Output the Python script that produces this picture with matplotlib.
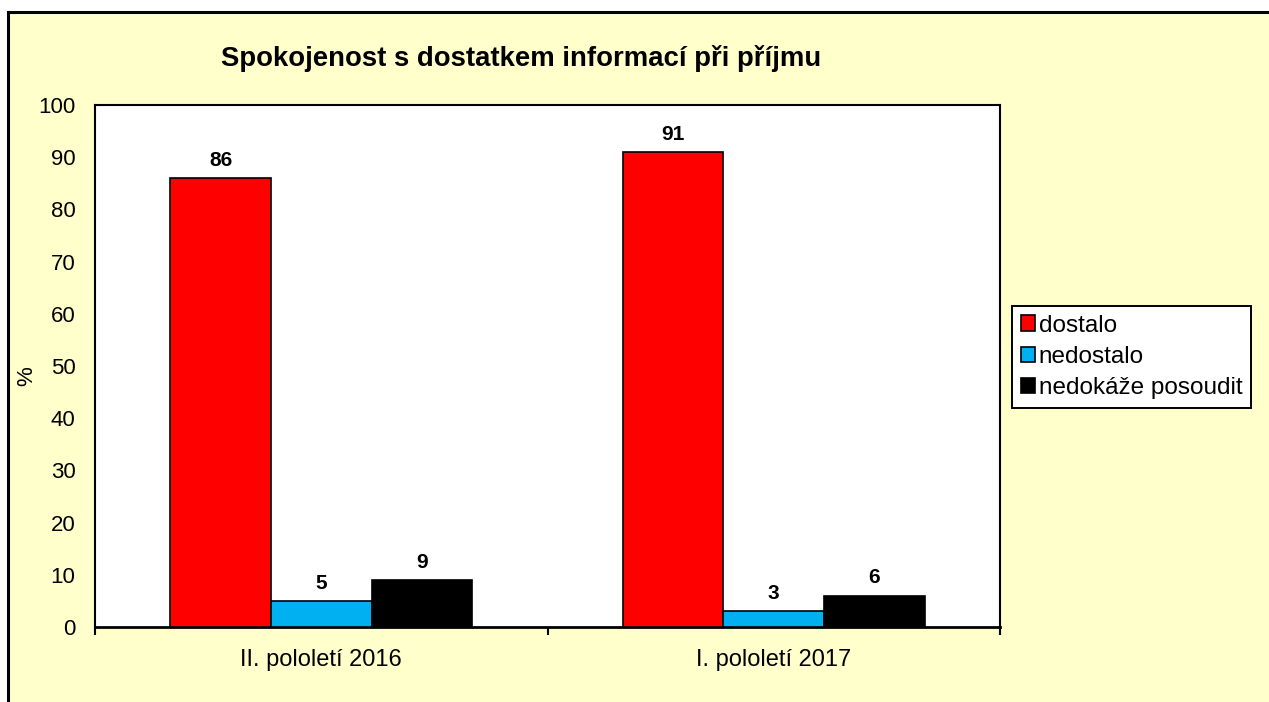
import matplotlib
matplotlib.use('Agg')
import matplotlib.pyplot as plt
import numpy as np
from matplotlib.patches import Rectangle
from matplotlib.lines import Line2D

periods = ['II. pololetí 2016', 'I. pololetí 2017']
series = ['dostalo', 'nedostalo', 'nedokáže posoudit']
dostalo = [86, 91]
nedostalo = [5, 3]
nedokaze = [9, 6]
colors = ['#FF0000', '#00B0F0', '#000000']

BG = '#FFFFCC'
W, H = 1269, 702

plt.rcParams['font.family'] = ['Liberation Sans', 'DejaVu Sans']

fig = plt.figure(figsize=(W / 100, H / 100), dpi=100, facecolor='white')

# outer chart frame (cropped on right and bottom)
fx0 = 8 / W
fy1 = 1 - 12 / H
fig.patches.append(Rectangle((fx0, 0), 1 - fx0, fy1, transform=fig.transFigure,
                             facecolor=BG, edgecolor='none', zorder=-2))
fig.lines.append(Line2D([fx0, fx0], [0, fy1], transform=fig.transFigure,
                        color='black', lw=2.2, zorder=-1))
fig.lines.append(Line2D([fx0, 1], [fy1, fy1], transform=fig.transFigure,
                        color='black', lw=2.2, zorder=-1))

ax = fig.add_axes([95 / W, 1 - 627 / H, (1000 - 95) / W, (627 - 105) / H])
ax.set_zorder(1)
ax.set_facecolor('white')

x = np.arange(len(periods))
bw = 0.2222
for i, (vals, c, name) in enumerate(zip([dostalo, nedostalo, nedokaze], colors, series)):
    pos = x + (i - 1) * bw
    ax.bar(pos, vals, width=bw, color=c, edgecolor='black', linewidth=1.2,
           label=name, zorder=3)
    for p, v in zip(pos, vals):
        ax.annotate(f'{v}', (p, v), xytext=(0, 6), textcoords='offset points',
                    ha='center', va='bottom', fontsize=15, fontweight='bold')

ax.set_xlim(-0.5, 1.5)
ax.set_ylim(0, 100)
ax.set_yticks(range(0, 101, 10))
ax.set_xticks([-0.5, 0.5, 1.5], minor=False)
ax.set_xticklabels([])
ax.set_xticks(x, minor=True)
ax.set_xticklabels(periods, minor=True)
ax.tick_params(axis='x', which='major', length=6, width=1.5, direction='out')
ax.tick_params(axis='x', which='minor', length=0, pad=16, labelsize=17)
ax.tick_params(axis='y', length=0, pad=14, labelsize=16)
for s in ax.spines.values():
    s.set_linewidth(1.5)
    s.set_color('black')
ax.spines['bottom'].set_linewidth(2)

ax.set_ylabel('%', fontsize=16)
ax.yaxis.set_label_coords((37 - 95) / 905, 0.48)

fig.text(521 / W, 1 - 58 / H, 'Spokojenost s dostatkem informací při příjmu',
         ha='center', va='center', fontsize=19.8, fontweight='bold')

leg = ax.legend(loc='center left', bbox_to_anchor=(1012 / W, 1 - 357 / H),
                bbox_transform=fig.transFigure, frameon=True, fancybox=False,
                framealpha=1, facecolor='white',
                edgecolor='black', fontsize=17.5, handlelength=0.6,
                handleheight=0.6, handletextpad=0.15, borderpad=0.35,
                labelspacing=0.38, borderaxespad=0)
leg.get_frame().set_linewidth(1.4)

fig.savefig('out.png', dpi=100, facecolor='white')
